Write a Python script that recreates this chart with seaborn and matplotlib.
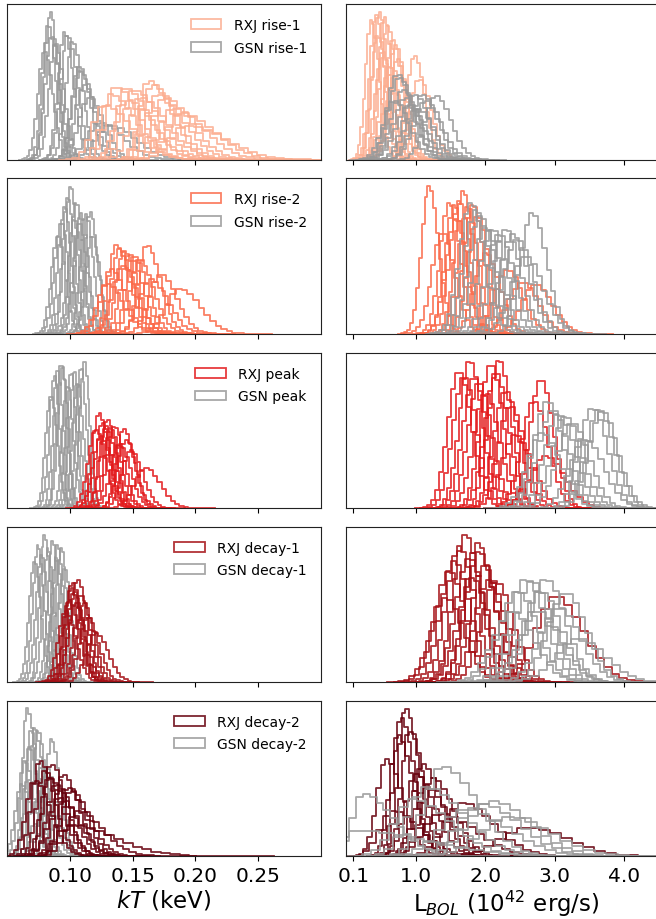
import numpy as np
import pandas as pd
import matplotlib
matplotlib.use("Agg")
import matplotlib.pyplot as plt
import seaborn as sns
from matplotlib.patches import Patch

# ---------------- data ----------------
phases = ["rise-1", "rise-2", "peak", "decay-1", "decay-2"]
rxj_colors = ["#fcae91", "#fb6a4a", "#e31a1c", "#a50f15", "#67000d"]
gsn_color = "#999999"

kT_ticks = [0.10, 0.15, 0.20, 0.25]
kT_ticklabels = ["0.10", "0.15", "0.20", "0.25"]
L_ticks = [0.1, 1.0, 2.0, 3.0, 4.0]
L_ticklabels = ["0.1", "1.0", "2.0", "3.0", "4.0"]

# each posterior histogram: (mode, peak height as fraction of panel, left spread, right spread)
kT_rxj_rise1 = [(0.1325, .42, .0075, .020), (0.1365, .47, .0075, .019), (0.1445, .46, .0075, .019),
                (0.1511, .45, .008, .020), (0.1564, .40, .0085, .021), (0.1630, .51, .0075, .018),
                (0.1656, .48, .008, .019), (0.1696, .42, .0085, .021), (0.1749, .40, .009, .022),
                (0.1815, .33, .010, .025), (0.1881, .30, .011, .027), (0.1934, .22, .013, .030),
                (0.1273, .35, .009, .022), (0.1458, .38, .009, .021)]
kT_gsn_rise1 = [(0.0844, .955, .0045, .006), (0.0823, .87, .0045, .0065), (0.0854, .80, .005, .007),
                (0.0796, .70, .005, .007), (0.0881, .75, .005, .007), (0.0955, .82, .005, .0075),
                (0.0981, .80, .0055, .008), (0.1021, .76, .0055, .008), (0.1074, .60, .006, .009),
                (0.1087, .57, .0065, .010), (0.1114, .48, .007, .011), (0.1153, .40, .008, .012),
                (0.1246, .24, .011, .018), (0.1325, .22, .012, .020)]
L_rxj_rise1 = [(0.473, .955, .09, .12), (0.426, .93, .09, .12), (0.354, .90, .08, .12),
               (0.545, .92, .09, .12), (0.593, .86, .10, .13), (0.665, .78, .10, .14),
               (0.713, .74, .11, .14), (0.737, .65, .11, .15), (0.521, .70, .10, .14),
               (0.976, .67, .11, .15), (1.048, .52, .13, .18), (0.449, .80, .09, .13),
               (0.617, .60, .11, .16)]
L_gsn_rise1 = [(0.737, .55, .15, .21), (0.761, .53, .15, .21), (0.809, .45, .16, .22),
               (0.856, .40, .17, .23), (0.904, .35, .18, .24), (0.976, .42, .16, .22),
               (1.096, .42, .16, .22), (1.144, .38, .17, .23), (1.287, .41, .16, .22),
               (0.689, .38, .16, .22), (1.024, .33, .18, .24)]

kT_rxj_rise2 = [(0.1365, .57, .006, .011), (0.1392, .544, .006, .011), (0.1431, .533, .006, .011),
                (0.1471, .51, .0065, .011), (0.1511, .50, .0065, .011), (0.1550, .48, .007, .012),
                (0.1611, .57, .0065, .011), (0.1418, .437, .0075, .012), (0.1325, .415, .0075, .012),
                (0.1722, .383, .009, .013), (0.1643, .35, .009, .014), (0.1881, .29, .011, .016),
                (0.1299, .32, .008, .013)]
kT_gsn_rise2 = [(0.1003, .953, .0045, .0055), (0.0981, .877, .0045, .0055), (0.0955, .82, .0045, .0055),
                (0.0929, .716, .005, .006), (0.1048, .845, .0045, .0055), (0.1087, .78, .0045, .006),
                (0.1127, .77, .0045, .006), (0.1161, .785, .0045, .006), (0.1180, .63, .005, .006),
                (0.1074, .716, .005, .006), (0.1034, .74, .005, .006), (0.0902, .63, .005, .006)]
L_rxj_rise2 = [(1.190, .953, .11, .14), (1.479, .845, .13, .16), (1.550, .83, .13, .16),
               (1.622, .856, .13, .16), (1.680, .92, .12, .15), (1.742, .82, .13, .16),
               (1.814, .834, .13, .16), (1.886, .76, .14, .17), (1.574, .738, .14, .17),
               (1.383, .65, .15, .18), (2.005, .52, .16, .20), (2.316, .415, .18, .22),
               (2.532, .33, .20, .24), (2.723, .32, .20, .24)]
L_gsn_rise2 = [(1.790, .845, .16, .20), (1.862, .80, .17, .21), (1.933, .76, .17, .21),
               (2.100, .673, .18, .22), (2.197, .64, .18, .22), (2.292, .673, .18, .22),
               (2.388, .64, .18, .23), (2.460, .61, .19, .23), (2.675, .78, .17, .21),
               (2.580, .50, .21, .25), (2.005, .684, .18, .22)]

kT_rxj_peak = [(0.1233, .616, .0055, .0075), (0.1259, .55, .0055, .0075), (0.1286, .53, .0055, .0075),
               (0.1325, .518, .0055, .008), (0.1352, .53, .0055, .008), (0.1431, .512, .006, .008),
               (0.1445, .443, .0065, .0085), (0.1206, .508, .006, .008), (0.1246, .464, .006, .008),
               (0.1392, .42, .0065, .009), (0.1484, .378, .007, .0095), (0.1603, .26, .009, .012),
               (0.1299, .572, .0055, .0075)]
kT_gsn_peak = [(0.0929, .93, .0038, .0045), (0.0902, .896, .0038, .0045), (0.0942, .918, .0038, .0045),
               (0.0876, .853, .004, .0045), (0.1008, .875, .0038, .0045), (0.1034, .886, .0038, .0045),
               (0.1061, .81, .004, .0048), (0.1114, .957, .0036, .0043), (0.1087, .907, .0038, .0045),
               (0.0981, .788, .004, .0048), (0.0849, .724, .0042, .005)]
L_rxj_peak = [(1.622, .886, .16, .19), (1.694, .853, .16, .19), (1.776, .95, .15, .18),
              (1.838, .842, .16, .19), (1.910, .81, .16, .19), (2.077, .929, .15, .18),
              (2.197, .957, .15, .18), (2.149, .875, .16, .19), (2.292, .756, .17, .20),
              (2.364, .659, .18, .21), (2.436, .475, .20, .24), (2.795, .832, .16, .19),
              (2.699, .69, .18, .21), (2.867, .335, .22, .28), (2.005, .745, .17, .20)]
L_gsn_peak = [(2.890, .69, .19, .23), (2.963, .637, .20, .24), (3.058, .605, .20, .24),
              (3.154, .594, .20, .24), (3.250, .55, .21, .25), (3.537, .648, .19, .23),
              (3.633, .637, .19, .23), (3.681, .626, .19, .23), (3.441, .443, .22, .27),
              (2.819, .486, .21, .26)]

kT_rxj_decay1 = [(0.1061, .66, .0055, .0075), (0.1021, .64, .0055, .0075), (0.0995, .53, .006, .008),
                 (0.1034, .585, .0055, .0075), (0.1087, .563, .0055, .0078), (0.1114, .51, .006, .008),
                 (0.1048, .51, .006, .008), (0.1140, .413, .0065, .009), (0.1206, .316, .0075, .010),
                 (0.1008, .606, .0055, .0075), (0.0968, .456, .006, .008)]
kT_gsn_decay1 = [(0.0743, .886, .004, .005), (0.0796, .95, .0038, .0048), (0.0823, .865, .004, .005),
                 (0.0862, .908, .004, .005), (0.0902, .886, .004, .005), (0.0929, .865, .004, .005),
                 (0.0770, .82, .0042, .0052), (0.0889, .80, .0042, .0052), (0.0955, .735, .0045, .0055),
                 (0.0717, .778, .0042, .0052)]
L_rxj_decay1 = [(1.718, .95, .18, .22), (1.622, .875, .18, .23), (1.550, .778, .19, .24),
                (1.886, .897, .18, .23), (1.910, .843, .19, .23), (1.814, .67, .20, .25),
                (2.053, .66, .20, .25), (2.149, .65, .20, .25), (1.431, .542, .21, .26),
                (1.981, .746, .19, .24), (3.010, .553, .28, .40), (1.766, .80, .19, .23),
                (1.479, .714, .20, .24)]
L_gsn_decay1 = [(2.580, .66, .24, .29), (2.675, .65, .24, .29), (2.867, .66, .24, .29),
                (2.460, .585, .25, .30), (2.795, .585, .25, .30), (3.154, .574, .25, .30),
                (3.058, .477, .27, .32), (2.771, .456, .27, .32), (2.388, .456, .27, .32),
                (3.346, .284, .32, .38)]

kT_rxj_decay2 = [(0.0757, .614, .006, .012), (0.0796, .55, .006, .013), (0.0836, .506, .0065, .013),
                 (0.0889, .464, .007, .014), (0.0942, .528, .0065, .013), (0.0981, .442, .007, .014),
                 (0.1008, .42, .0075, .015), (0.0717, .485, .0065, .013), (0.0849, .592, .006, .012),
                 (0.0915, .378, .008, .016), (0.1061, .29, .009, .020), (0.1000, .20, .010, .035)]
kT_gsn_decay2 = [(0.0659, .953, .0035, .0065), (0.0690, .807, .004, .007), (0.0717, .828, .004, .007),
                 (0.0743, .807, .004, .007), (0.0849, .753, .0042, .0075), (0.0637, .614, .0045, .008),
                 (0.0770, .571, .0048, .0085), (0.0677, .70, .0042, .0075), (0.0810, .571, .0048, .0085),
                 (0.0611, .464, .005, .009)]
L_rxj_decay2 = [(0.847, .953, .10, .20), (0.785, .893, .10, .20), (0.737, .785, .11, .22),
                (0.904, .807, .11, .22), (0.569, .624, .13, .25), (1.096, .592, .14, .27),
                (1.000, .528, .15, .28), (1.239, .506, .16, .30), (1.144, .442, .17, .32),
                (1.670, .345, .25, .45), (2.628, .185, .40, .55), (0.665, .292, .18, .40),
                (1.359, .27, .25, .50)]
L_gsn_decay2 = [(1.383, .575, .25, .50), (0.234, .40, .15, .45), (0.150, .163, .30, 1.00),
                (2.100, .354, .35, .55), (1.957, .333, .35, .55), (1.718, .30, .35, .60),
                (1.144, .442, .25, .55), (2.340, .25, .40, .60), (0.952, .365, .25, .55)]

kT_rxj = [kT_rxj_rise1, kT_rxj_rise2, kT_rxj_peak, kT_rxj_decay1, kT_rxj_decay2]
kT_gsn = [kT_gsn_rise1, kT_gsn_rise2, kT_gsn_peak, kT_gsn_decay1, kT_gsn_decay2]
L_rxj = [L_rxj_rise1, L_rxj_rise2, L_rxj_peak, L_rxj_decay1, L_rxj_decay2]
L_gsn = [L_gsn_rise1, L_gsn_rise2, L_gsn_peak, L_gsn_decay1, L_gsn_decay2]

# ---------------- drawing ----------------
W, H = 656, 920
fig = plt.figure(figsize=(W / 100, H / 100), dpi=100)

row_tops = [5.3, 179.3, 354.0, 527.7, 701.7]
row_h = 155.4
left_x0, left_w = 7.3, 313.4
right_x0, right_w = 346.35, 319.7

ALPHA = 0.85
LW = 1.3


def draw_curves(ax, curves, color):
    for m, h, sl, sr in curves:
        w = (sl + sr) / 6.0
        n = int(np.ceil((4 * sl + 4.5 * sr) / w))
        lo = m - 4 * sl
        centers = lo + w * (np.arange(n) + 0.5)
        s = np.where(centers < m, sl, sr)
        counts = h * np.exp(-0.5 * ((centers - m) / s) ** 2)
        df = pd.DataFrame({"v": centers, "wt": counts})
        sns.histplot(data=df, x="v", weights="wt", binwidth=w, binrange=(lo, lo + n * w),
                     element="step", fill=False, color=color, alpha=ALPHA,
                     linewidth=LW, ax=ax)


def style_axis(ax, xlim, ticks, ticklabels, bottom, xlabel):
    ax.set_xlim(*xlim)
    ax.set_ylim(0, 1)
    ax.set_yticks([])
    ax.set_ylabel("")
    ax.set_xticks(ticks)
    ax.tick_params(axis="x", direction="out", length=3.5, width=0.8)
    for sp in ax.spines.values():
        sp.set_color("#222222")
    if bottom:
        ax.set_xticklabels(ticklabels, fontsize=14.5)
        ax.set_xlabel(xlabel, fontsize=16.5, labelpad=2)
    else:
        ax.set_xticklabels([])
        ax.set_xlabel("")


for i, phase in enumerate(phases):
    top = row_tops[i]
    yb = 1 - (top + row_h) / H
    axl = fig.add_axes([left_x0 / W, yb, left_w / W, row_h / H])
    axr = fig.add_axes([right_x0 / W, yb, right_w / W, row_h / H])

    draw_curves(axl, kT_gsn[i], gsn_color)
    draw_curves(axl, kT_rxj[i], rxj_colors[i])
    draw_curves(axr, L_rxj[i], rxj_colors[i])
    draw_curves(axr, L_gsn[i], gsn_color)

    bottom = i == len(phases) - 1
    style_axis(axl, (0.05, 0.30), kT_ticks, kT_ticklabels, bottom, r"$kT$ (keV)")
    style_axis(axr, (0.0, 4.6), L_ticks, L_ticklabels, bottom,
               r"L$_{BOL}$ (10$^{42}$ erg/s)")

    handles = [Patch(facecolor="none", edgecolor=rxj_colors[i], alpha=ALPHA, linewidth=LW),
               Patch(facecolor="none", edgecolor=gsn_color, alpha=ALPHA, linewidth=LW)]
    axl.legend(handles, [f"RXJ {phase}", f"GSN {phase}"], loc="upper right",
               frameon=False, fontsize=10, handlelength=2.2, handletextpad=0.9,
               labelspacing=0.6, borderaxespad=0.6)

fig.savefig("out.png", dpi=100)
